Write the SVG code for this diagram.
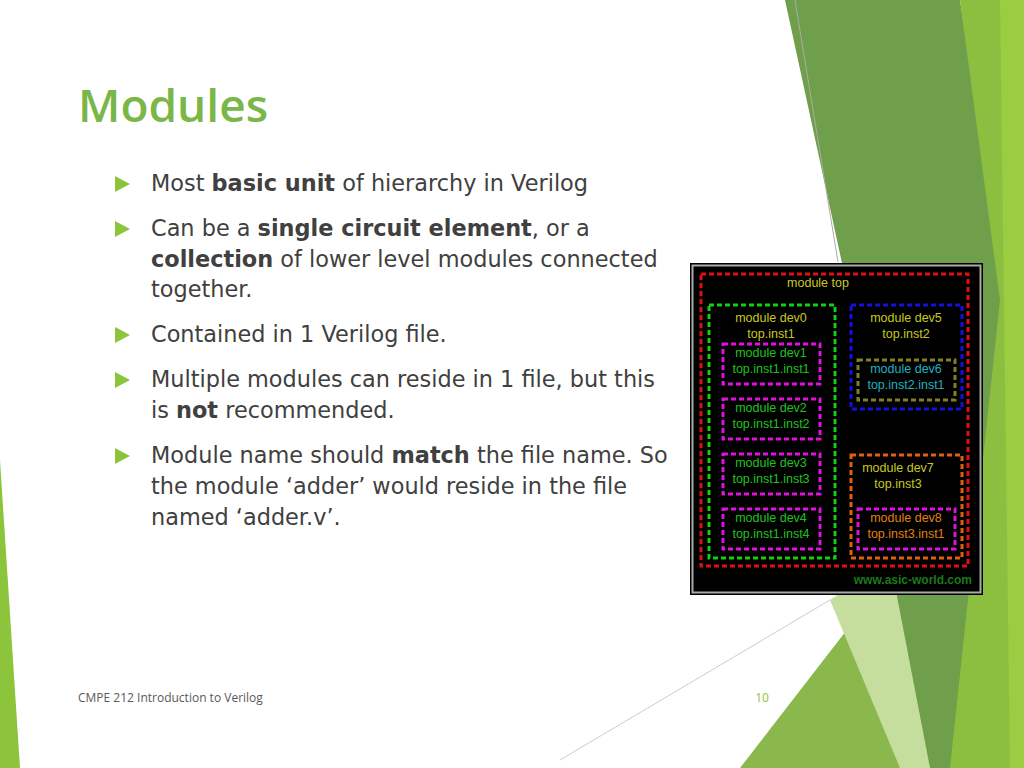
<svg xmlns="http://www.w3.org/2000/svg" width="1024" height="768" viewBox="0 0 1024 768">
<style>
.b{font-family:"DejaVu Sans","Open Sans",sans-serif;font-size:22.4px;fill:#404040}
.d{font-family:"Liberation Sans",Arial,sans-serif;font-size:12.5px;text-anchor:middle}
.r{fill:none;stroke-width:3;stroke-dasharray:5 3}
</style>
<rect width="1024" height="768" fill="#fff"/>
<g id="bg">
<polygon points="785,0 960,0 1024,420 1024,768 920,768 850,300" fill="#6f9f4a"/>
<polygon points="960,0 1024,0 1024,768 950,768 1000,300" fill="#8cbf3f"/>
<polygon points="1000,0 1024,0 1024,768 1010,768" fill="#9acd42"/>
<polygon points="740,768 870,600 930,768" fill="#8ab84c"/>
<polygon points="830,600 890,560 930,768 900,768" fill="#c5de9e"/>
<polygon points="0,460 20,768 0,768" fill="#8cc43c"/>
<line x1="795" y1="0" x2="838" y2="262" stroke="#aaa" stroke-width="1"/>
<line x1="560" y1="760" x2="830" y2="600" stroke="#ccc" stroke-width="1"/>
</g>
<text x="78" y="122" font-family="'Open Sans','DejaVu Sans',sans-serif" font-size="46" font-weight="600" fill="#7ab648">Modules</text>
<g id="bullets" fill="#8cc43c">
<polygon points="115,176 130,184 115,192"/>
<polygon points="115,221 130,229 115,237"/>
<polygon points="115,327 130,335 115,343"/>
<polygon points="115,372 130,380 115,388"/>
<polygon points="115,448 130,456 115,464"/>
</g>
<g id="text">
<text class="b" x="151" y="191">Most <tspan font-weight="bold">basic unit</tspan> of hierarchy in Verilog</text>
<text class="b" x="151" y="236">Can be a <tspan font-weight="bold">single circuit element</tspan>, or a</text>
<text class="b" x="151" y="267"><tspan font-weight="bold">collection</tspan> of lower level modules connected</text>
<text class="b" x="151" y="297">together.</text>
<text class="b" x="151" y="342">Contained in 1 Verilog file.</text>
<text class="b" x="151" y="387">Multiple modules can reside in 1 file, but this</text>
<text class="b" x="151" y="418">is <tspan font-weight="bold">not</tspan> recommended.</text>
<text class="b" x="151" y="463">Module name should <tspan font-weight="bold">match</tspan> the file name. So</text>
<text class="b" x="151" y="494">the module ‘adder’ would reside in the file</text>
<text class="b" x="151" y="525">named ‘adder.v’.</text>
</g>
<text x="78" y="702" font-family="'Open Sans','DejaVu Sans',sans-serif" font-size="12" fill="#595959">CMPE 212 Introduction to Verilog</text>
<text x="762" y="702" text-anchor="middle" font-family="'Open Sans','DejaVu Sans',sans-serif" font-size="12" fill="#8cc43c">10</text>
<g id="figure">
<rect x="690" y="263" width="293" height="332" fill="#000"/>
<rect x="692.5" y="265.5" width="288" height="327" fill="none" stroke="#aaa" stroke-width="2"/>
<rect class="r" x="701" y="274" width="267" height="292" stroke="#e01010"/>
<rect class="r" x="709" y="305" width="126" height="253" stroke="#10d010"/>
<rect class="r" x="723" y="344" width="97" height="40" stroke="#e010e0"/>
<rect class="r" x="723" y="399" width="97" height="40" stroke="#e010e0"/>
<rect class="r" x="723" y="454" width="97" height="40" stroke="#e010e0"/>
<rect class="r" x="723" y="509" width="97" height="40" stroke="#e010e0"/>
<rect class="r" x="851" y="305" width="111" height="104" stroke="#1010e0"/>
<rect class="r" x="858" y="360" width="97" height="40" stroke="#808020"/>
<rect class="r" x="851" y="455" width="111" height="103" stroke="#e06010"/>
<rect class="r" x="858" y="509" width="97" height="40" stroke="#e010e0"/>
<g fill="#c8c820">
<text class="d" x="818" y="287">module top</text>
<text class="d" x="771" y="322">module dev0</text><text class="d" x="771" y="338">top.inst1</text>
<text class="d" x="906" y="322">module dev5</text><text class="d" x="906" y="338">top.inst2</text>
<text class="d" x="898" y="472">module dev7</text><text class="d" x="898" y="488">top.inst3</text>
</g>
<g fill="#20c020">
<text class="d" x="771" y="357">module dev1</text><text class="d" x="771" y="373">top.inst1.inst1</text>
<text class="d" x="771" y="412">module dev2</text><text class="d" x="771" y="428">top.inst1.inst2</text>
<text class="d" x="771" y="467">module dev3</text><text class="d" x="771" y="483">top.inst1.inst3</text>
<text class="d" x="771" y="522">module dev4</text><text class="d" x="771" y="538">top.inst1.inst4</text>
</g>
<g fill="#20b0c0"><text class="d" x="906" y="373">module dev6</text><text class="d" x="906" y="389">top.inst2.inst1</text></g>
<g fill="#e08010"><text class="d" x="906" y="522">module dev8</text><text class="d" x="906" y="538">top.inst3.inst1</text></g>
<text x="972" y="584" text-anchor="end" font-family="'Liberation Sans',Arial,sans-serif" font-size="12" font-weight="bold" fill="#1a7a1a">www.asic-world.com</text>
</g>
</svg>
